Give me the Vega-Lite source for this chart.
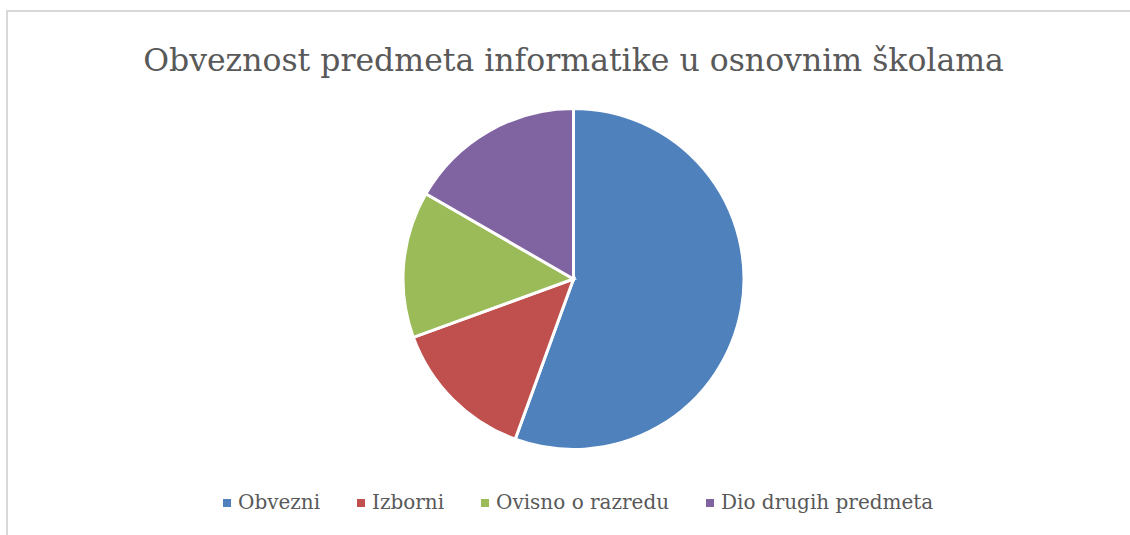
{
  "$schema": "https://vega.github.io/schema/vega-lite/v6.json",
  "width": 1133,
  "height": 536,
  "padding": {"left": 7, "top": 11, "right": -10, "bottom": -12},
  "background": "white",
  "view": {"stroke": "#d9d9d9", "strokeWidth": 2, "fill": "white"},
  "title": {
    "text": "Obveznost predmeta informatike u osnovnim školama",
    "font": "DejaVu Serif",
    "fontSize": 31.5,
    "fontWeight": "normal",
    "color": "#595959",
    "anchor": "middle",
    "offset": -66
  },
  "data": {
    "values": [
      {"kategorija": "Obvezni", "broj": 20, "red": 1},
      {"kategorija": "Izborni", "broj": 5, "red": 2},
      {"kategorija": "Ovisno o razredu", "broj": 5, "red": 3},
      {"kategorija": "Dio drugih predmeta", "broj": 6, "red": 4}
    ]
  },
  "mark": {"type": "arc", "outerRadius": 170.5, "stroke": "white", "strokeWidth": 3},
  "encoding": {
    "theta": {"field": "broj", "type": "quantitative", "stack": true},
    "order": {"field": "red", "type": "quantitative", "sort": "ascending"},
    "color": {
      "field": "kategorija",
      "type": "nominal",
      "scale": {
        "domain": ["Obvezni", "Izborni", "Ovisno o razredu", "Dio drugih predmeta"],
        "range": ["#4F81BD", "#C0504D", "#9BBB59", "#8064A2"]
      },
      "legend": {
        "title": null,
        "orient": "none",
        "direction": "horizontal",
        "legendX": 210,
        "legendY": 482,
        "symbolType": "square",
        "symbolSize": 64,
        "symbolStrokeWidth": 0,
        "labelFont": "DejaVu Serif",
        "labelFontSize": 20,
        "labelColor": "#595959",
        "labelOffset": 1,
        "labelLimit": 0,
        "columnPadding": 30
      }
    }
  }
}
